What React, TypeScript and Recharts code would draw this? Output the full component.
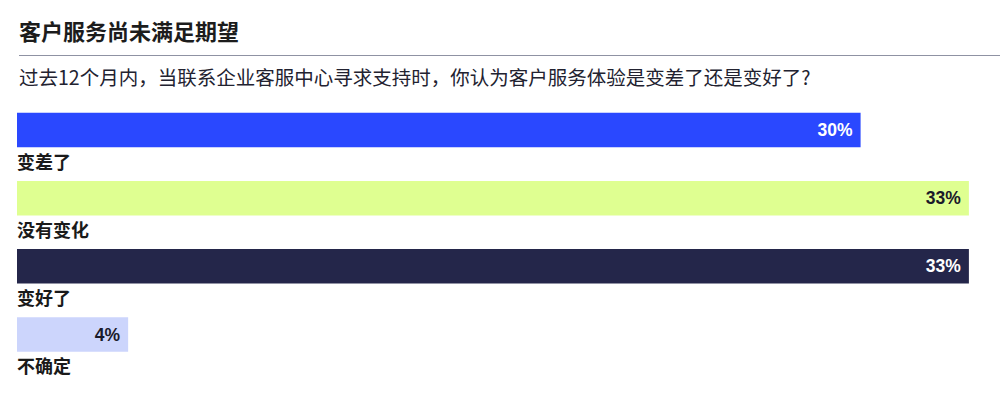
import React from "react";
import { BarChart, Bar, XAxis, YAxis, Cell, LabelList } from "recharts";

const categories = ["变差了", "没有变化", "变好了", "不确定"];
const values = [29.6, 33.4, 33.4, 3.9];
const barColors = ["#2a48ff", "#dfff91", "#24264a", "#ccd5fc"];
const valueTextColors = ["#ffffff", "#1a1a2a", "#ffffff", "#1a1a2a"];

const data = categories.map((name, i) => ({ name, value: values[i] }));

const CJK = '"Noto Sans CJK SC", "Noto Sans", sans-serif';

const ValueLabel = (props: any) => {
  const { x, y, width, height, value, index } = props;
  return (
    <text
      x={x + width - 8}
      y={y + height / 2}
      textAnchor="end"
      dominantBaseline="central"
      fill={valueTextColors[index]}
      fontFamily='"Liberation Sans", Arial, sans-serif'
      fontWeight={700}
      fontSize={17.5}
    >
      {Math.round(value)}%
    </text>
  );
};

const NameLabel = (props: any) => {
  const { x, y, height, value } = props;
  return (
    <text
      x={x}
      y={y + height + 13.5}
      textAnchor="start"
      dominantBaseline="central"
      fill="#1a1a1a"
      fontFamily={CJK}
      fontWeight={700}
      fontSize={18}
    >
      {value}
    </text>
  );
};

export default function App() {
  return (
    <div style={{ position: "absolute", left: 0, top: 0, width: 1000, height: 410, background: "#fff" }}>
      <div
        style={{
          position: "absolute",
          left: 19,
          top: 18.5,
          fontFamily: CJK,
          fontWeight: 700,
          fontSize: 22,
          lineHeight: "22px",
          color: "#1c1c1c",
          whiteSpace: "nowrap",
        }}
      >
        客户服务尚未满足期望
      </div>
      <div style={{ position: "absolute", left: 19, top: 54.5, width: 981, height: 1, background: "#8f92a3" }} />
      <div
        style={{
          position: "absolute",
          left: 19,
          top: 66.5,
          fontFamily: CJK,
          fontWeight: 400,
          fontSize: 19.5,
          lineHeight: "19.5px",
          color: "#222230",
          whiteSpace: "nowrap",
        }}
      >
        过去12个月内，当联系企业客服中心寻求支持时，你认为客户服务体验是变差了还是变好了?
      </div>
      <div style={{ position: "absolute", left: 0, top: 0 }}>
        <BarChart
          width={1000}
          height={410}
          data={data}
          layout="vertical"
          margin={{ top: 95.7, right: 14, bottom: 41.5, left: 17 }}
        >
          <XAxis type="number" domain={[0, 34]} hide allowDataOverflow />
          <YAxis type="category" dataKey="name" hide />
          <Bar dataKey="value" barSize={34.5} isAnimationActive={false}>
            {data.map((d, i) => (
              <Cell key={d.name} fill={barColors[i]} />
            ))}
            <LabelList dataKey="value" content={<ValueLabel />} />
            <LabelList dataKey="name" content={<NameLabel />} />
          </Bar>
        </BarChart>
      </div>
    </div>
  );
}
